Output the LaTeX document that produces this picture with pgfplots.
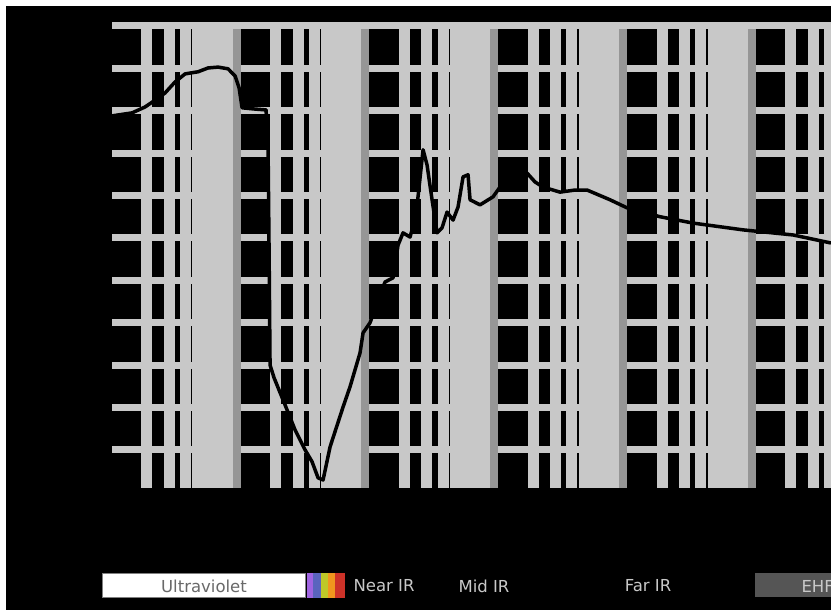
\documentclass[border=0pt]{standalone}
\usepackage{pgfplots}
\usepackage{pgfplotstable}
\pgfplotsset{compat=1.18}
\usepackage{fontspec}
\setmainfont{DejaVu Sans}
\definecolor{gl}{RGB}{200,200,200}
\definecolor{gd}{RGB}{150,150,150}
\definecolor{ehf}{RGB}{85,85,85}
\definecolor{uvtext}{RGB}{105,105,105}
\definecolor{rbA}{RGB}{160,100,225}
\definecolor{rbB}{RGB}{90,100,190}
\definecolor{rbC}{RGB}{190,200,40}
\definecolor{rbD}{RGB}{240,150,30}
\definecolor{rbE}{RGB}{205,50,40}

\pgfplotstableread{
x y
10.82 88.8
15.46 89.5
19.51 90.9
23.32 92.5
27.88 94.2
33.33 96.8
39.85 98.7
50.27 99.2
60.09 100.1
71.85 100.3
85.93 99.9
97.37 98.2
104.6 95.4
110.3 90.7
139.2 90.4
169.4 90.2
175.6 80.8
178.7 57.2
181.9 30.0
195.4 27.0
237.8 20.6
284.4 14.7
340.0 10.0
385.2 7.2
428.8 3.4
469.0 2.9
531.4 10.7
670.0 20.1
759.6 24.9
908.0 32.9
958.0 37.6
1086 40.0
1252 45.4
1419 49.6
1637 50.6
1790 58.3
1957 61.2
2218 60.2
2470 65.4
2799 80.8
3006 77.2
3287 69.0
3594 61.2
3930 62.4
4297 66.1
4782 64.2
5229 67.3
5718 74.4
6252 74.9
6479 69.0
7747 67.8
9770 69.7
11070 72.0
13240 73.2
15830 74.9
17940 75.3
20690 73.2
23870 72.0
32340 70.8
42280 71.3
52390 71.3
79000 69.0
107000 67.1
193000 65.0
348000 63.5
850000 61.9
2077000 60.7
4094000 58.8
}\opacity

\begin{document}
\begin{tikzpicture}[x=1pt,y=1pt]
\fill[white] (0,0) rectangle (831,616);
\fill[black] (6,6) rectangle (831,610);

% horizontal grid lines
\begin{axis}[
  at={(112pt,128pt)}, anchor=south west,
  scale only axis, width=719pt, height=462pt,
  xmode=log, xmin=10.8, xmax=4.094e6, ymin=1, ymax=110,
  axis line style={draw=none}, tick style={draw=none},
  xticklabels={}, yticklabels={},
  xtick=\empty,
  ytick={10,20,30,40,50,60,70,80,90,100},
  ymajorgrids,
  major y grid style={line width=7pt, color=gl},
]
\end{axis}

% vertical grid lines and curve
\begin{axis}[
  at={(112pt,128pt)}, anchor=south west,
  scale only axis, width=719pt, height=462pt,
  xmode=log, xmin=10.8, xmax=4.094e6, ymin=1, ymax=110,
  axis line style={draw=none}, tick style={draw=none},
  xticklabels={}, yticklabels={},
  xtick={100,1000,1e4,1e5,1e6},
  minor xtick={20,30,40,50,60,70,80,90,
    200,300,400,500,600,700,800,900,
    2000,3000,4000,5000,6000,7000,8000,9000,
    2e4,3e4,4e4,5e4,6e4,7e4,8e4,9e4,
    2e5,3e5,4e5,5e5,6e5,7e5,8e5,9e5,
    2e6,3e6,4e6},
  xmajorgrids, xminorgrids,
  minor x grid style={line width=11pt, color=gl},
  major x grid style={line width=8pt, color=gd},
  ytick={110},
  ymajorgrids,
  major y grid style={line width=7pt, color=gl},
]
\addplot[black, line width=3.5pt, line join=round] table[x=x,y=y]{\opacity};
\end{axis}

% band labels
\fill[white, draw=gray, line width=1pt] (102.5,18.5) rectangle (305,42.5);
\node[text=uvtext, font=\fontsize{16.5}{18}\selectfont] at (204,30) {Ultraviolet};
\fill[rbA] (307,18) rectangle (313,43);
\fill[rbB] (313,18) rectangle (321,43);
\fill[rbC] (321,18) rectangle (328,43);
\fill[rbD] (328,18) rectangle (335,43);
\fill[rbE] (335,18) rectangle (345,43);
\node[text=gl, font=\fontsize{16.5}{18}\selectfont] at (384,30) {Near IR};
\node[text=gl, font=\fontsize{16.5}{18}\selectfont] at (484,30) {Mid IR};
\node[text=gl, font=\fontsize{16.5}{18}\selectfont] at (648,30) {Far IR};
\fill[ehf] (755,19) rectangle (831,43);
\node[text=gl, font=\fontsize{16.5}{18}\selectfont, anchor=west] at (798,30) {EHF};

\pgfresetboundingbox
\useasboundingbox (0,0) rectangle (831,616);
\end{tikzpicture}
\end{document}
